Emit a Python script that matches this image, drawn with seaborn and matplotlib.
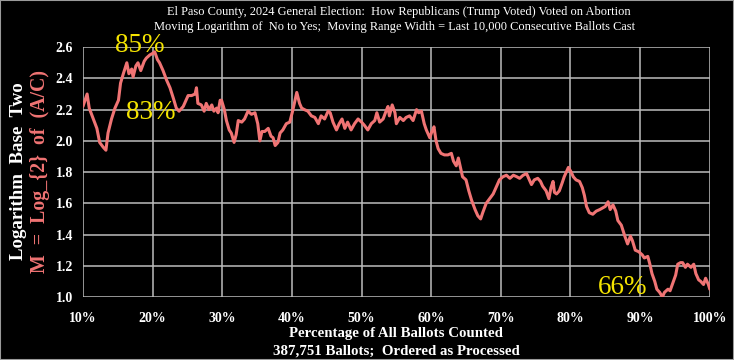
import matplotlib
matplotlib.use("Agg")
import matplotlib.pyplot as plt
import seaborn as sns
import pandas as pd
from matplotlib.ticker import FuncFormatter, MultipleLocator
from matplotlib.patches import Rectangle

pct_counted = [10.0, 10.6, 10.9, 11.5, 12.0, 12.4, 12.9, 13.3, 13.6, 14.1, 14.6, 15.1, 15.4, 15.8,
               16.3, 16.6, 17.0, 17.2, 17.6, 17.9, 18.3, 18.8, 19.1, 19.6, 20.0, 20.3, 20.7, 21.0,
               21.5, 22.0, 22.5, 23.0, 23.4, 23.8, 24.4, 24.8, 25.1, 25.6, 26.1, 26.3, 26.5, 27.0,
               27.4, 27.7, 28.1, 28.5, 28.8, 29.2, 29.4, 29.7, 29.9, 30.3, 30.6, 31.0, 31.3, 31.7,
               32.0, 32.3, 32.8, 33.2, 33.7, 34.2, 34.7, 35.1, 35.4, 35.7, 36.1, 36.6, 37.0, 37.3,
               37.6, 38.0, 38.3, 38.7, 39.2, 39.7, 40.1, 40.4, 40.7, 41.1, 41.4, 41.8, 42.3, 42.8,
               43.3, 43.8, 44.2, 44.7, 45.2, 45.5, 45.9, 46.4, 46.8, 47.2, 47.6, 48.0, 48.5, 49.0,
               49.5, 50.0, 50.4, 50.9, 51.4, 51.9, 52.2, 52.6, 53.1, 53.6, 53.8, 54.0, 54.4, 54.8,
               55.0, 55.5, 56.0, 56.4, 56.9, 57.4, 57.9, 58.2, 58.6, 59.0, 59.3, 59.8, 60.1, 60.4,
               60.7, 61.0, 61.4, 61.9, 62.4, 62.9, 63.2, 63.6, 63.9, 64.2, 64.5, 65.0, 65.4, 65.8,
               66.3, 66.7, 67.1, 67.4, 67.9, 68.4, 68.9, 69.4, 69.8, 70.3, 70.8, 71.3, 71.8, 72.3,
               72.7, 73.2, 73.7, 74.0, 74.4, 74.8, 75.3, 75.7, 76.0, 76.5, 76.9, 77.2, 77.5, 77.7,
               78.0, 78.4, 78.8, 79.1, 79.4, 79.7, 80.1, 80.4, 80.8, 81.3, 81.7, 82.0, 82.3, 82.7,
               83.2, 83.7, 84.2, 84.6, 85.0, 85.4, 85.7, 86.1, 86.5, 86.8, 87.3, 87.8, 88.2, 88.6,
               88.9, 89.3, 89.8, 90.3, 90.6, 91.1, 91.4, 91.7, 92.1, 92.4, 92.8, 93.2, 93.5, 94.0,
               94.3, 94.7, 95.1, 95.4, 95.8, 96.1, 96.5, 96.8, 97.3, 97.7, 98.0, 98.4, 98.7, 99.1,
               99.4, 99.8, 100.0]

log2_ratio = [2.22, 2.30, 2.21, 2.14, 2.08, 1.99, 1.96, 1.94, 2.05, 2.14, 2.21, 2.26, 2.37, 2.43,
              2.50, 2.43, 2.46, 2.41, 2.48, 2.50, 2.45, 2.51, 2.53, 2.55, 2.56, 2.57, 2.52, 2.50,
              2.45, 2.39, 2.34, 2.27, 2.21, 2.19, 2.22, 2.26, 2.29, 2.29, 2.30, 2.34, 2.24, 2.23,
              2.19, 2.24, 2.20, 2.23, 2.19, 2.21, 2.18, 2.26, 2.26, 2.20, 2.13, 2.07, 2.05, 1.99,
              2.04, 2.13, 2.12, 2.14, 2.19, 2.17, 2.18, 2.11, 2.00, 2.06, 2.06, 2.08, 2.03, 2.02,
              1.97, 1.99, 2.05, 2.07, 2.11, 2.12, 2.19, 2.25, 2.31, 2.24, 2.21, 2.20, 2.19, 2.16,
              2.15, 2.11, 2.16, 2.14, 2.19, 2.18, 2.12, 2.07, 2.11, 2.14, 2.08, 2.12, 2.07, 2.11,
              2.14, 2.12, 2.10, 2.07, 2.11, 2.13, 2.18, 2.12, 2.14, 2.20, 2.22, 2.16, 2.23, 2.18,
              2.11, 2.15, 2.13, 2.15, 2.16, 2.13, 2.20, 2.18, 2.19, 2.11, 2.07, 2.02, 2.06, 2.09,
              2.00, 1.95, 1.92, 1.91, 1.91, 1.92, 1.87, 1.84, 1.89, 1.83, 1.77, 1.75, 1.68, 1.62,
              1.56, 1.52, 1.50, 1.54, 1.60, 1.63, 1.66, 1.71, 1.75, 1.77, 1.78, 1.76, 1.78, 1.77,
              1.76, 1.78, 1.79, 1.76, 1.72, 1.75, 1.76, 1.74, 1.71, 1.68, 1.63, 1.70, 1.74, 1.67,
              1.66, 1.68, 1.73, 1.77, 1.80, 1.83, 1.80, 1.77, 1.75, 1.74, 1.70, 1.65, 1.58, 1.54,
              1.53, 1.55, 1.56, 1.57, 1.58, 1.61, 1.56, 1.59, 1.55, 1.49, 1.46, 1.39, 1.34, 1.39,
              1.36, 1.30, 1.29, 1.27, 1.25, 1.26, 1.21, 1.15, 1.10, 1.05, 1.03, 1.00, 1.03, 1.05,
              1.04, 1.09, 1.14, 1.21, 1.22, 1.22, 1.19, 1.21, 1.19, 1.21, 1.15, 1.11, 1.10, 1.08,
              1.12, 1.08, 1.05]

annot_text = ["85%", "83%", "66%"]
annot_x = [18.2, 19.8, 87.5]
annot_y = [2.61, 2.18, 1.06]

title_lines = ["El Paso County, 2024 General Election:  How Republicans (Trump Voted) Voted on Abortion",
               "Moving Logarithm of  No to Yes;  Moving Range Width = Last 10,000 Consecutive Ballots Cast"]
xlabel_lines = ["Percentage of All Ballots Counted", "387,751 Ballots;  Ordered as Processed"]
ylabel_lines = ["Logarithm  Base  Two", "M  =  Log_{2}  of  (A/C)"]

sns.set_theme(style="dark")
plt.rcParams['font.family'] = ['Liberation Serif', 'DejaVu Serif']

BG = "black"
LINE = "#f07474"
GRID = "#bdbdbd"

fig = plt.figure(figsize=(7.34, 3.60), dpi=100, facecolor=BG)
ax = fig.add_axes([0.113, 0.175, 0.854, 0.694])
ax.set_facecolor(BG)

df = pd.DataFrame({"pct": pct_counted, "m": log2_ratio})
sns.lineplot(data=df, x="pct", y="m", ax=ax, color=LINE, linewidth=2.2,
             estimator=None, sort=False)

ax.set_xlim(10, 100)
ax.set_ylim(1.0, 2.6)
ax.xaxis.set_major_locator(MultipleLocator(10))
ax.yaxis.set_major_locator(MultipleLocator(0.2))
ax.xaxis.set_major_formatter(FuncFormatter(lambda v, p: f"{int(round(v))}%"))
ax.yaxis.set_major_formatter(FuncFormatter(lambda v, p: f"{v:.1f}"))
ax.grid(True, color=GRID, linewidth=1.1)
ax.set_axisbelow(True)
for s in ax.spines.values():
    s.set_visible(False)
ax.tick_params(axis="x", colors="white", labelsize=10, length=0, pad=11)
ax.tick_params(axis="y", colors="white", labelsize=10, length=0, pad=7)
for lab in ax.get_xticklabels() + ax.get_yticklabels():
    lab.set_fontweight("bold")

ax.set_xlabel("")
ax.set_ylabel("")

for t, x, y in zip(annot_text, annot_x, annot_y):
    ax.text(x, y, t, color="#f5e400", fontsize=19.5, ha="center", va="center", clip_on=False)

fig.text(0.544, 0.968, title_lines[0], color="white", fontsize=8.9, ha="center", va="center")
fig.text(0.537, 0.926, title_lines[1], color="white", fontsize=8.9, ha="center", va="center")

fig.text(0.54, 0.075, xlabel_lines[0], color="white", fontsize=10.7, fontweight="bold", ha="center", va="center")
fig.text(0.54, 0.025, xlabel_lines[1], color="white", fontsize=10.7, fontweight="bold", ha="center", va="center")

fig.text(0.025, 0.524, ylabel_lines[0], color="white", fontsize=13.6, fontweight="bold",
         rotation=90, ha="center", va="center")
fig.text(0.055, 0.524, ylabel_lines[1], color=LINE, fontsize=14.3, fontweight="bold",
         rotation=90, ha="center", va="center")

fig.patches.append(Rectangle((0, 0), 1, 1, transform=fig.transFigure, fill=False,
                             edgecolor="#9a9a9a", linewidth=1.5))

fig.savefig("out.png", dpi=100, facecolor=BG)
